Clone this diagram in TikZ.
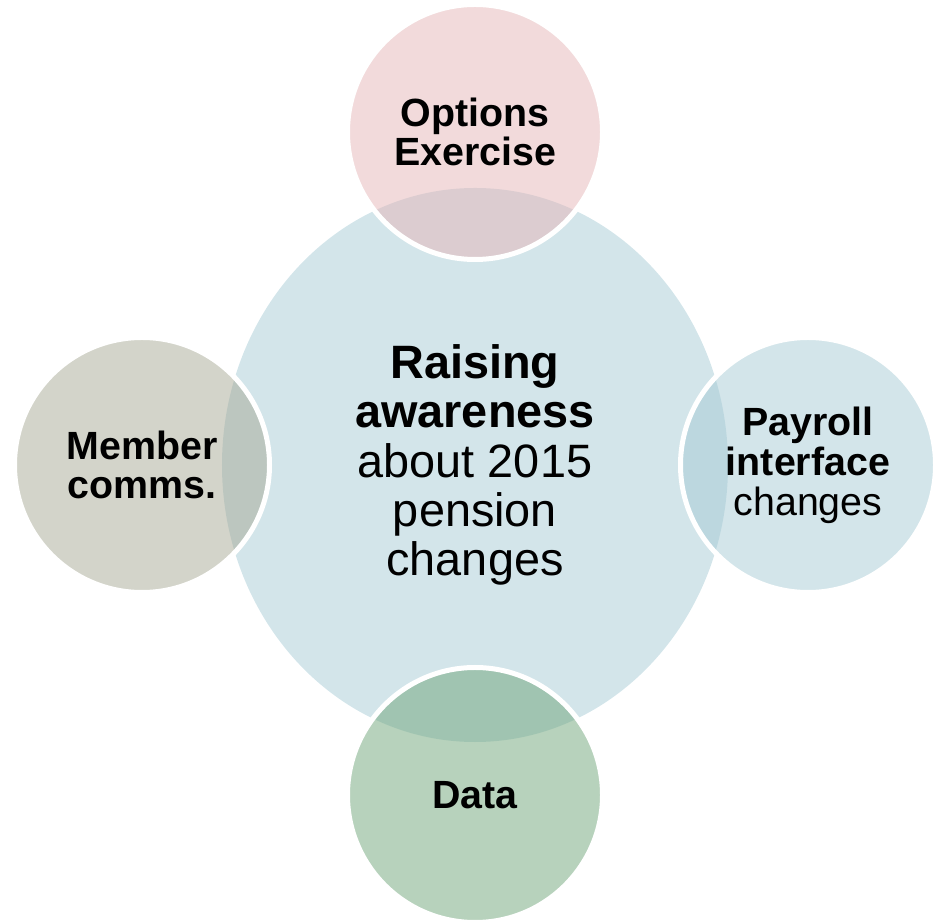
\documentclass[tikz,border=0pt]{standalone}
\usepackage{fontspec}
\setmainfont{Liberation Sans}
\usepackage[]{tikz}
\usetikzlibrary{shapes.geometric}
\definecolor{hubblue}{RGB}{211,229,234}
\definecolor{optpink}{RGB}{229,181,183}
\definecolor{memgray}{RGB}{167,169,149}
\definecolor{payblue}{RGB}{167,203,213}
\definecolor{datagreen}{RGB}{111,165,121}
\tikzset{hub/.style = {ellipse, inner sep = 0, minimum width = 506bp, minimum height = 554bp, fill = hubblue, align = center, font = \fontsize{47}{49.5}\selectfont}}
\tikzset{sat/.style = {circle, inner sep = 0, minimum size = 255bp, draw = white, line width = 5bp, fill opacity = 0.5, text opacity = 1, align = center, font = \fontsize{39.5}{40}\selectfont}}

\begin{document}
\begin{tikzpicture}[x=1bp,y=1bp]
        \useasboundingbox (0,0) rectangle (936,921);
        \node [hub] (hub) at (475,456) {\textbf{Raising}\\\textbf{awareness}\\about 2015\\pension\\changes};
        \node [sat, fill=optpink] (opt) at (475,789) {\textbf{Options}\\\textbf{Exercise}};
        \node [sat, fill=memgray] (mem) at (142,456) {\textbf{Member}\\\textbf{comms.}};
        \node [sat, fill=payblue] (pay) at (808,456) {\textbf{Payroll}\\\textbf{interface}\\changes};
        \node [sat, fill=datagreen] (data) at (475,126) {\textbf{Data}};
    \end{tikzpicture}
\end{document}
